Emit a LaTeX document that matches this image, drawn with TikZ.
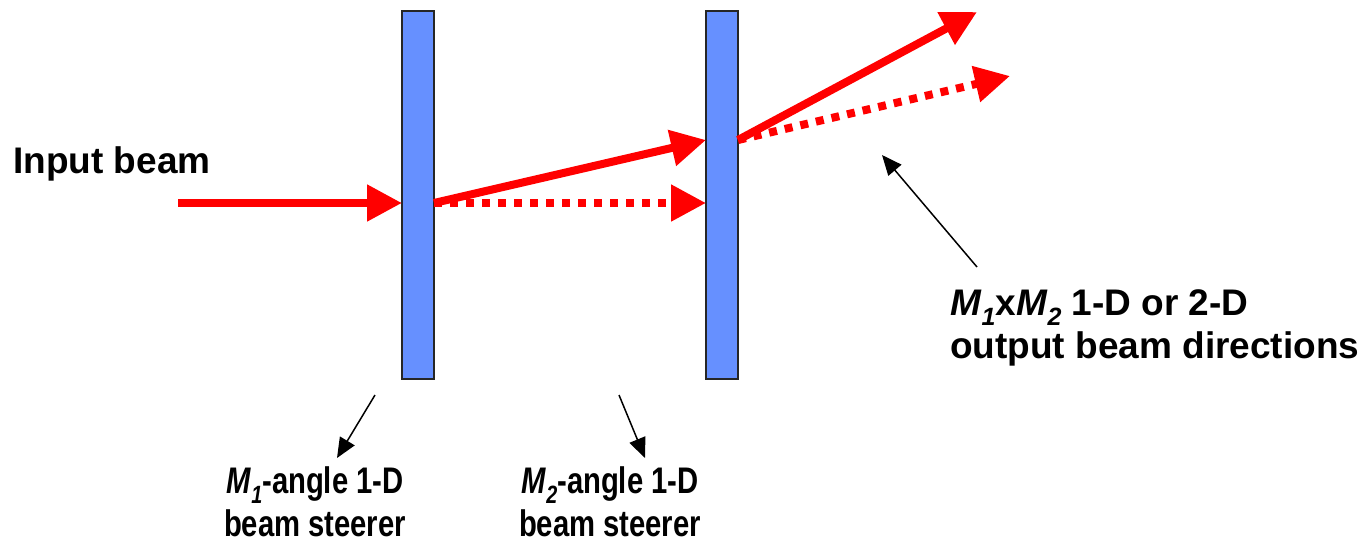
\documentclass[tikz,border=0pt]{standalone}
\usepackage{fontspec}
\setmainfont{Liberation Sans}
\usetikzlibrary{arrows.meta}
\definecolor{plateblue}{RGB}{102,144,255}
\definecolor{beamred}{RGB}{255,0,0}
\newcommand{\msub}[1]{\textit{M}\raisebox{-10pt}{\fontsize{25}{25}\selectfont\textit{#1}}}
\newcommand{\narrow}[1]{\scalebox{0.79}[1]{#1}}
\begin{document}
\begin{tikzpicture}[x=1pt,y=-1pt,
  plate/.style={draw=black!85, line width=1.5pt, fill=plateblue, minimum width=32pt, minimum height=368pt, inner sep=0pt, outer sep=0pt},
  beam/.style={draw=beamred, line width=8pt, -{Triangle[length=35pt,width=35pt]}},
  dotbeam/.style={beam, dash pattern=on 8pt off 8pt},
  pointer/.style={draw=black, line width=1.5pt, -{Triangle[length=20pt,width=17pt]}},
  lbl/.style={font=\fontsize{37}{43}\selectfont\bfseries, inner sep=0pt}
]
\useasboundingbox (0,0) rectangle (1367,542);
\node[plate] (p1) at (418,195) {};
\node[plate] (p2) at (722,195) {};
\coordinate (in) at (178,203);
\coordinate (h1) at (p1.west |- in);
\coordinate (o1) at (p1.east |- in);
\coordinate (h2s) at (p2.west |- 0,140);
\coordinate (h2d) at (p2.west |- in);
\coordinate (o2) at (p2.east |- 0,140);
\coordinate (t1) at (977,12);
\coordinate (t2) at (1010,76);
\draw[beam] (in) -- (h1);
\draw[beam] (o1) -- (h2s);
\draw[dotbeam] (o1) -- (h2d);
\draw[beam] (o2) -- (t1);
\draw[dotbeam] (o2) -- (t2);
\node[lbl, anchor=base west] (inlbl) at (13,173) {Input beam};
\node[lbl, anchor=base, align=center] (l1) at (315,536) {\narrow{\msub{1}-angle 1-D}\\\narrow{beam steerer}};
\node[lbl, anchor=base, align=center] (l2) at (610,536) {\narrow{\msub{2}-angle 1-D}\\\narrow{beam steerer}};
\node[lbl, anchor=base west, align=left] (l3) at (950,358) {\msub{1}x\msub{2} 1-D or 2-D\\output beam directions};
\coordinate (a1s) at (375,395);
\coordinate (a1e) at (337,458);
\coordinate (a2s) at (619,395);
\coordinate (a2e) at (645,458);
\coordinate (a3s) at (977,267);
\coordinate (a3e) at (882,155);
\draw[pointer] (a1s) -- (a1e);
\draw[pointer] (a2s) -- (a2e);
\draw[pointer] (a3s) -- (a3e);
\end{tikzpicture}
\end{document}
